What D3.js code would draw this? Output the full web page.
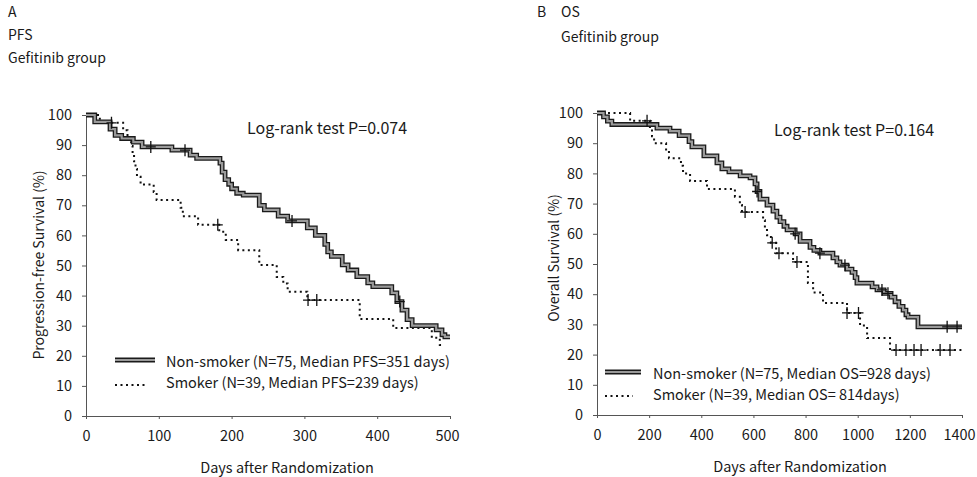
<!DOCTYPE html>
<html lang="en">
<head>
<meta charset="UTF-8">
<title>PFS / OS Gefitinib group</title>
<script src="https://cdn.jsdelivr.net/npm/d3@7/dist/d3.min.js"></script>
<style>
  body { margin: 0; background: #fff; }
  svg { display: block; }
  text { font-family: "Noto Sans CJK JP", "Noto Sans", sans-serif; fill: #1a1a1a; }
  .axis path, .axis line { stroke: #555; }
  .axis text { font-size: 14.5px; }
</style>
</head>
<body>
<script>
// ---- data ----
var yTicks = [0, 10, 20, 30, 40, 50, 60, 70, 80, 90, 100];
var pfsDayTicks = [0, 100, 200, 300, 400, 500];
var osDayTicks = [0, 200, 400, 600, 800, 1000, 1200, 1400];

// [day, survival %] after each step
var pfsNonSmoker = [[0,100],[12,97.7],[33,95.3],[40,93.2],[49,92.2],[65,91],[77,89.4],[118,88.3],
  [143,86.7],[152,85.6],[184,84],[187,81],[191,78.5],[196,77],[200,75.5],[207,74],[216,73.4],
  [238,70],[245,68.5],[264,66.4],[277,64.8],[304,62.5],[315,60],[328,57],[332,54.5],[337,53],
  [352,50.2],[360,48.5],[372,46.3],[387,44.2],[394,43],[420,40.9],[427,38],[434,35.2],
  [441,32],[448,30],[481,28.6],[489,27],[493,26.3]];
var pfsNonSmokerEnd = 500;
var pfsNonSmokerCensor = [[89,89.4],[136,88.3],[283,64.8],[431,38]];

var pfsSmoker = [[0,100],[19,97.4],[51,94.9],[57,92.3],[62,89.7],[64,87.2],[66,84.6],[68,82.1],
  [70,79.5],[75,76.9],[93,74.4],[97,71.8],[130,69.2],[133,66.4],[154,63.5],[183,61.2],
  [192,58.5],[209,55.1],[238,50.2],[262,46.2],[271,44],[277,41.3],[304,38.5],[376,32.2],
  [422,29.2],[475,26],[486,23.6]];
var pfsSmokerEnd = 490;
var pfsSmokerCensor = [[35,97.4],[181,63.5],[305,38.5],[317,38.5]];

var osNonSmoker = [[0,100],[25,98.7],[40,97.3],[57,96.2],[230,95],[280,94],[315,92.5],[353,90.5],
  [364,88.8],[410,85.8],[460,83.5],[479,81.5],[506,80.5],[549,79.2],[587,78.5],[606,76.5],
  [614,74],[625,71.5],[652,69.5],[675,67.5],[690,65.5],[702,64],[717,62.5],[729,61.3],
  [760,60],[779,57.5],[817,55.5],[832,54.5],[855,53.6],[905,52],[920,50.7],[932,49.6],
  [959,48.3],[978,47.2],[990,45.5],[997,43.7],[1055,42.4],[1074,41.4],[1101,40.3],[1128,39],
  [1143,37.5],[1158,36],[1174,34.7],[1185,33.2],[1193,32.4],[1231,29.2]];
var osNonSmokerEnd = 1400;
var osNonSmokerCensor = [[614,74],[760,60],[855,53.6],[951,49.6],[1093,41.4],[1116,40.3],[1343,29.2],[1381,29.2]];

var osSmoker = [[0,100],[127,97.4],[203,95],[211,92.3],[219,90],[265,87.5],[276,85],[322,82.5],
  [330,80],[357,77.5],[422,74.8],[529,72.3],[548,69.5],[556,67.2],[637,64.5],[644,62],
  [652,59.5],[667,57],[687,53.6],[752,50.7],[809,43.7],[829,40.6],[867,37.1],[959,33.8],
  [1009,29.6],[1036,25.5],[1124,21.5]];
var osSmokerEnd = 1400;
var osSmokerCensor = [[192,97.4],[568,67.2],[672,57],[698,53.6],[767,50.7],[959,33.8],[1003,33.8],
  [1147,21.5],[1185,21.5],[1216,21.5],[1243,21.5],[1316,21.5],[1354,21.5]];

var svg = d3.select("body").append("svg")
  .attr("width", 977)
  .attr("height", 477);

function drawPanel(p) {
  var x = d3.scaleLinear().domain([0, p.xMax]).range([p.left, p.right]);
  var y = d3.scaleLinear().domain([0, 100]).range([p.bottom, p.top]);
  var g = svg.append("g");

  g.append("g").attr("class", "axis")
    .attr("transform", "translate(" + p.left + ",0)")
    .call(d3.axisLeft(y).tickValues(yTicks).tickFormat(d3.format("d"))
      .tickSize(4).tickSizeOuter(0).tickPadding(10));

  var xAxis = g.append("g").attr("class", "axis")
    .attr("transform", "translate(0," + p.bottom + ")")
    .call(d3.axisBottom(x).tickValues(p.xTicks).tickFormat(d3.format("d"))
      .tickSize(3).tickSizeOuter(0).tickPadding(12));
  // keep the last label inside the page
  xAxis.selectAll(".tick text").filter(function(d){ return d === p.xMax; })
    .attr("dx", -3);

  var line = d3.line()
    .x(function(d){ return x(d[0]); })
    .y(function(d){ return y(d[1]); })
    .curve(d3.curveStepAfter);

  function withEnd(pts, end) {
    return pts.concat([[end, pts[pts.length - 1][1]]]);
  }

  // smoker: dotted
  g.append("path")
    .attr("d", line(withEnd(p.smoker, p.smokerEnd)))
    .attr("fill", "none").attr("stroke", "#111")
    .attr("stroke-width", 2).attr("stroke-dasharray", "2,3.5");

  // non-smoker: thick outlined line
  var ns = line(withEnd(p.non, p.nonEnd));
  g.append("path").attr("d", ns).attr("fill", "none")
    .attr("stroke", "#1a1a1a").attr("stroke-width", 4.8);
  g.append("path").attr("d", ns).attr("fill", "none")
    .attr("stroke", "#9a9a9a").attr("stroke-width", 2.2);

  // censor marks
  var marks = p.nonCensor.concat(p.smokerCensor);
  g.selectAll(null).data(marks).enter().append("path")
    .attr("d", function(d){
      var cx = x(d[0]), cy = y(d[1]);
      return "M" + (cx - 5) + "," + cy + "H" + (cx + 5) + "M" + cx + "," + (cy - 6) + "V" + (cy + 6);
    })
    .attr("stroke", "#111").attr("stroke-width", 1.3).attr("fill", "none");

  // labels
  g.append("text")
    .attr("transform", "translate(" + p.yTitleX + "," + p.yTitleY + ") rotate(-90)")
    .attr("text-anchor", "middle").attr("dy", "0.35em")
    .style("font-size", "14px").text(p.yTitle);

  g.append("text")
    .attr("x", p.xTitleX).attr("y", p.bottom + 52)
    .attr("text-anchor", "middle").attr("dy", "0.35em")
    .style("font-size", "14.5px").text("Days after Randomization");

  g.append("text")
    .attr("x", p.logX).attr("y", p.logY).attr("dy", "0.35em")
    .style("font-size", "16px").text(p.logText);

  // legend
  var lg = g.append("g");
  lg.append("line").attr("x1", p.legX).attr("x2", p.legX + p.legLen)
    .attr("y1", p.legY).attr("y2", p.legY)
    .attr("stroke", "#1a1a1a").attr("stroke-width", 4.8);
  lg.append("line").attr("x1", p.legX).attr("x2", p.legX + p.legLen)
    .attr("y1", p.legY).attr("y2", p.legY)
    .attr("stroke", "#9a9a9a").attr("stroke-width", 2.2);
  lg.append("text").attr("x", p.legTextX).attr("y", p.legY + 2).attr("dy", "0.35em")
    .style("font-size", "14.5px").text(p.nonLabel);
  lg.append("line").attr("x1", p.legX).attr("x2", p.legX + p.legLen - 8)
    .attr("y1", p.legY + p.legGap).attr("y2", p.legY + p.legGap)
    .attr("stroke", "#111").attr("stroke-width", 2).attr("stroke-dasharray", "2,3.5");
  lg.append("text").attr("x", p.legTextX).attr("y", p.legY + 2 + p.legTextGap).attr("dy", "0.35em")
    .style("font-size", "14.5px").text(p.smokerLabel);
}

drawPanel({
  left: 86, right: 450, top: 115, bottom: 416, xMax: 500, xTicks: pfsDayTicks,
  non: pfsNonSmoker, nonEnd: pfsNonSmokerEnd, nonCensor: pfsNonSmokerCensor,
  smoker: pfsSmoker, smokerEnd: pfsSmokerEnd, smokerCensor: pfsSmokerCensor,
  yTitle: "Progression-free Survival (%)", yTitleX: 39, yTitleY: 265,
  xTitleX: 287, logX: 247, logY: 128, logText: "Log-rank test P=0.074",
  legX: 115, legLen: 40, legY: 360, legGap: 25, legTextX: 166, legTextGap: 21,
  nonLabel: "Non-smoker (N=75, Median PFS=351 days)",
  smokerLabel: "Smoker (N=39, Median PFS=239 days)"
});

drawPanel({
  left: 597, right: 962, top: 113, bottom: 415, xMax: 1400, xTicks: osDayTicks,
  non: osNonSmoker, nonEnd: osNonSmokerEnd, nonCensor: osNonSmokerCensor,
  smoker: osSmoker, smokerEnd: osSmokerEnd, smokerCensor: osSmokerCensor,
  yTitle: "Overall Survival (%)", yTitleX: 554, yTitleY: 258,
  xTitleX: 800, logX: 774, logY: 130, logText: "Log-rank test P=0.164",
  legX: 605, legLen: 36, legY: 372, legGap: 24, legTextX: 653, legTextGap: 21,
  nonLabel: "Non-smoker (N=75, Median OS=928 days)",
  smokerLabel: "Smoker (N=39, Median OS= 814days)"
});

// panel headings
var heads = [
  {x: 8, y: 12, t: "A"}, {x: 8, y: 35, t: "PFS"}, {x: 8, y: 58, t: "Gefitinib group"},
  {x: 537, y: 12, t: "B"}, {x: 561, y: 12, t: "OS"}, {x: 561, y: 37, t: "Gefitinib group"}
];
svg.selectAll(null).data(heads).enter().append("text")
  .attr("x", function(d){ return d.x; }).attr("y", function(d){ return d.y; })
  .attr("dy", "0.35em").style("font-size", "14px")
  .text(function(d){ return d.t; });
</script>
</body>
</html>
